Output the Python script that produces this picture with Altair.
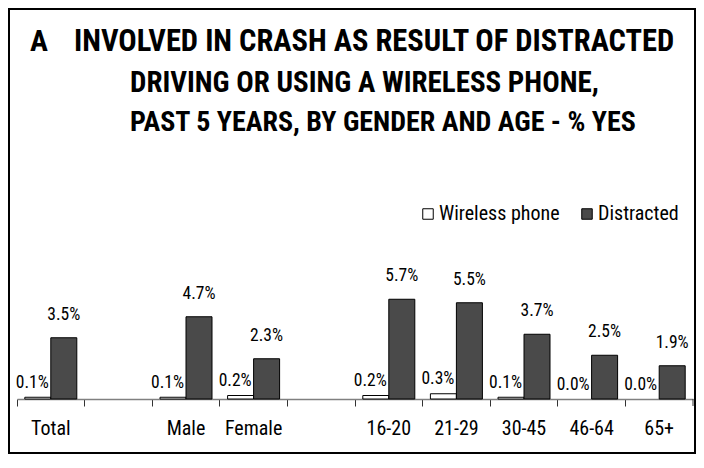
import altair as alt
import pandas as pd

FONT = "Roboto Condensed, Liberation Sans Narrow, Arial Narrow, DejaVu Sans Condensed, Liberation Sans, sans-serif"

categories = ["Total", " ", "Male", "Female", "  ", "16-20", "21-29", "30-45", "46-64", "65+"]
wireless = [0.1, None, 0.1, 0.2, None, 0.2, 0.3, 0.1, 0.0, 0.0]
distracted = [3.5, None, 4.7, 2.3, None, 5.7, 5.5, 3.7, 2.5, 1.9]
series_names = ["Wireless phone", "Distracted"]
series_colors = ["white", "#4a4a4a"]

title_prefix = "A"
title_lines = [
    "INVOLVED IN CRASH AS RESULT OF DISTRACTED",
    "DRIVING OR USING A WIRELESS PHONE,",
    "PAST 5 YEARS, BY GENDER AND AGE - % YES",
]

rows = []
for c, w, d in zip(categories, wireless, distracted):
    if w is not None:
        rows.append({"cat": c, "series": series_names[0], "value": w, "label": f"{w:.1f}%"})
    if d is not None:
        rows.append({"cat": c, "series": series_names[1], "value": d, "label": f"{d:.1f}%"})
df = pd.DataFrame(rows)

W, H = 676, 175

x_enc = alt.X(
    "cat:N",
    sort=categories,
    scale=alt.Scale(domain=categories, paddingInner=0, paddingOuter=0),
    axis=alt.Axis(
        title=None, labelAngle=0, bandPosition=0,
        tickSize=7, tickColor="#333333", tickWidth=1, domainColor="#808080", domainWidth=1.5,
        labelFont=FONT, labelFontSize=20, labelPadding=12, labelColor="black",
    ),
)
xoff = alt.XOffset(
    "series:N",
    sort=series_names,
    scale=alt.Scale(domain=series_names, paddingOuter=0.3, paddingInner=0),
)
y_enc = alt.Y("value:Q", scale=alt.Scale(domain=[0, 10]), axis=None)

base = alt.Chart(df)

bars = base.transform_filter("datum.value > 0").mark_bar(stroke="black", strokeWidth=1).encode(
    x=x_enc,
    xOffset=xoff,
    y=y_enc,
    color=alt.Color(
        "series:N",
        sort=series_names,
        scale=alt.Scale(domain=series_names, range=series_colors),
        legend=alt.Legend(
            title=None, orient="none", direction="horizontal", legendX=401, legendY=-20,
            symbolType="square", symbolSize=110, symbolStrokeColor="black", symbolStrokeWidth=1,
            symbolOpacity=1,
            labelFont=FONT, labelFontSize=20, labelColor="black", labelOffset=1,
            columnPadding=17, padding=0,
        ),
    ),
)

dist_labels = base.transform_filter(f"datum.series == '{series_names[1]}'").mark_text(
    baseline="alphabetic", dy=-18, font=FONT, fontSize=17.5, color="black"
).encode(x=x_enc, xOffset=xoff, y=y_enc, text="label:N")

wire_labels = base.transform_filter(f"datum.series == '{series_names[0]}'").mark_text(
    baseline="alphabetic", align="right", dx=11, dy=-9.5, font=FONT, fontSize=17.5, color="black"
).encode(x=x_enc, xOffset=xoff, y=y_enc, text="label:N")

last_tick = alt.Chart(pd.DataFrame({"a": [0]})).mark_rule(color="#333333").encode(
    x=alt.value(W), y=alt.value(H), y2=alt.value(H + 7)
)

frame = alt.Chart(pd.DataFrame({"a": [0]})).mark_rect(
    fillOpacity=0, stroke="black", strokeWidth=2, clip=False
).encode(x=alt.value(-8), x2=alt.value(W + 2), y=alt.value(-215), y2=alt.value(H + 54))

def title_text(txt, xpos, ypos, size):
    return alt.Chart(pd.DataFrame({"t": [txt]})).mark_text(
        align="left", baseline="alphabetic", font=FONT, fontSize=size, fontWeight="bold", color="black"
    ).encode(x=alt.value(xpos), y=alt.value(ypos), text="t:N")

titles = [
    title_text(title_prefix, 13, -173, 30),
    title_text(title_lines[0], 57, -173, 30.5),
    title_text(title_lines[1], 113, -132, 29),
    title_text(title_lines[2], 113, -93, 28),
]

chart = alt.layer(frame, *titles, bars, dist_labels, wire_labels, last_tick).properties(
    width=W, height=H,
    padding={"left": 9, "top": 216, "right": 3, "bottom": 55},
    autosize=alt.AutoSizeParams(type="none"),
).configure_view(stroke="transparent")

chart.save("out.html", embed_options={"renderer": "svg", "actions": False})
